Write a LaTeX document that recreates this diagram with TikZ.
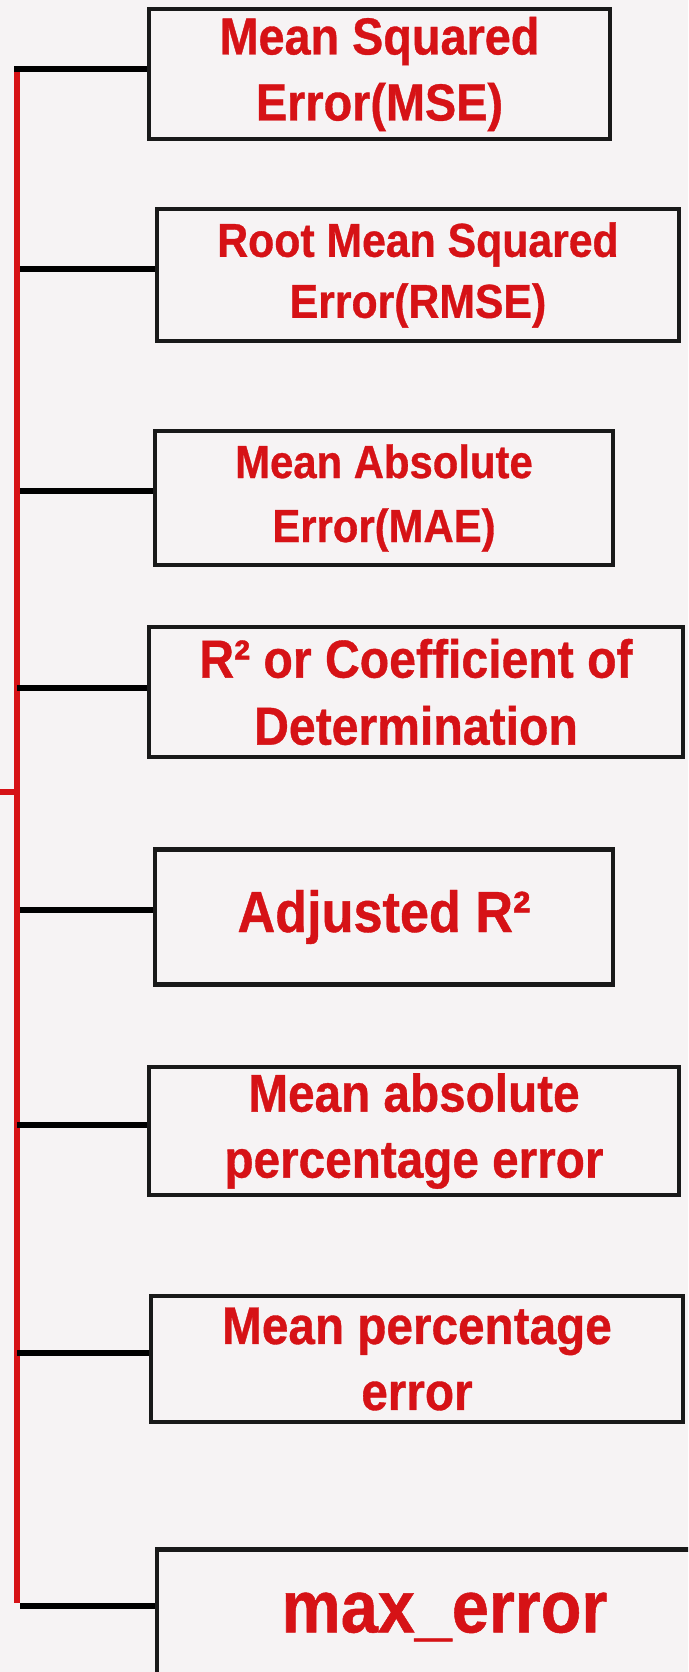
\documentclass[tikz,border=0pt]{standalone}
\usepackage{fontspec}
\newfontfamily\boxfont[FakeStretch=0.9, BoldFeatures={FakeBold=0.7}]{Liberation Sans}
\definecolor{redtxt}{RGB}{214,18,22}
\definecolor{bgcol}{RGB}{246,243,244}
\begin{document}
\begin{tikzpicture}[x=1pt,y=-1pt,
  metric/.style={rectangle, draw=black!90, line width=4.5pt, inner sep=0pt, align=center, text=redtxt},
  conn/.style={line width=6.5pt, draw=black},
  trunk/.style={line width=6.5pt, draw=redtxt}]
\fill[bgcol] (0,0) rectangle (688,1672);
\useasboundingbox (0,0) rectangle (688,1672);
\clip (0,0) rectangle (688,1672);

\node[metric, minimum width=461pt, minimum height=130pt, font={\boxfont\bfseries\fontsize{52}{66}\selectfont}] (m1) at (379.5,74) {Mean Squared\\Error(MSE)};
\node[metric, minimum width=522pt, minimum height=132pt, font={\boxfont\bfseries\fontsize{47.5}{61}\selectfont}] (m2) at (418,275) {Root Mean Squared\\Error(RMSE)};
\node[metric, minimum width=458pt, minimum height=134pt, font={\boxfont\bfseries\fontsize{46.5}{64}\selectfont}] (m3) at (384,498) {Mean Absolute\\Error(MAE)};
\node[metric, minimum width=534pt, minimum height=130pt, font={\boxfont\bfseries\fontsize{53.5}{67}\selectfont}] (m4) at (416,692) {R² or Coefficient of\\Determination};
\node[metric, minimum width=458pt, minimum height=135pt, font={\boxfont\bfseries\fontsize{58}{70}\selectfont}] (m5) at (384,917) {Adjusted R²};
\node[metric, minimum width=530pt, minimum height=128pt, font={\boxfont\bfseries\fontsize{53}{66}\selectfont}] (m6) at (414,1131) {Mean absolute\\percentage error};
\node[metric, minimum width=532pt, minimum height=126pt, font={\boxfont\bfseries\fontsize{53}{66}\selectfont}] (m7) at (417,1359) {Mean percentage\\error};
\node[metric, minimum width=535pt, minimum height=135pt, font={\boxfont\bfseries\fontsize{74}{80}\selectfont}] (m8) at (424.5,1617) {\hspace*{40pt}max\_error};

\coordinate (top) at (17,72);
\coordinate (bot) at (17,1603);
\draw[trunk] (top) -- (bot);
\coordinate (stub) at (0,792);
\draw[trunk] (stub) -- (stub -| top);

\coordinate (t1) at (14,69);
\coordinate (t2) at (20,269);
\coordinate (t3) at (20,491);
\coordinate (t4) at (17,688);
\coordinate (t5) at (20,910);
\coordinate (t6) at (17,1125);
\coordinate (t7) at (17,1353);
\coordinate (t8) at (20,1606);
\draw[conn] (t1) -- (t1 -| m1.west);
\draw[conn] (t2) -- (t2 -| m2.west);
\draw[conn] (t3) -- (t3 -| m3.west);
\draw[conn] (t4) -- (t4 -| m4.west);
\draw[conn] (t5) -- (t5 -| m5.west);
\draw[conn] (t6) -- (t6 -| m6.west);
\draw[conn] (t7) -- (t7 -| m7.west);
\draw[conn] (t8) -- (t8 -| m8.west);
\end{tikzpicture}
\end{document}
